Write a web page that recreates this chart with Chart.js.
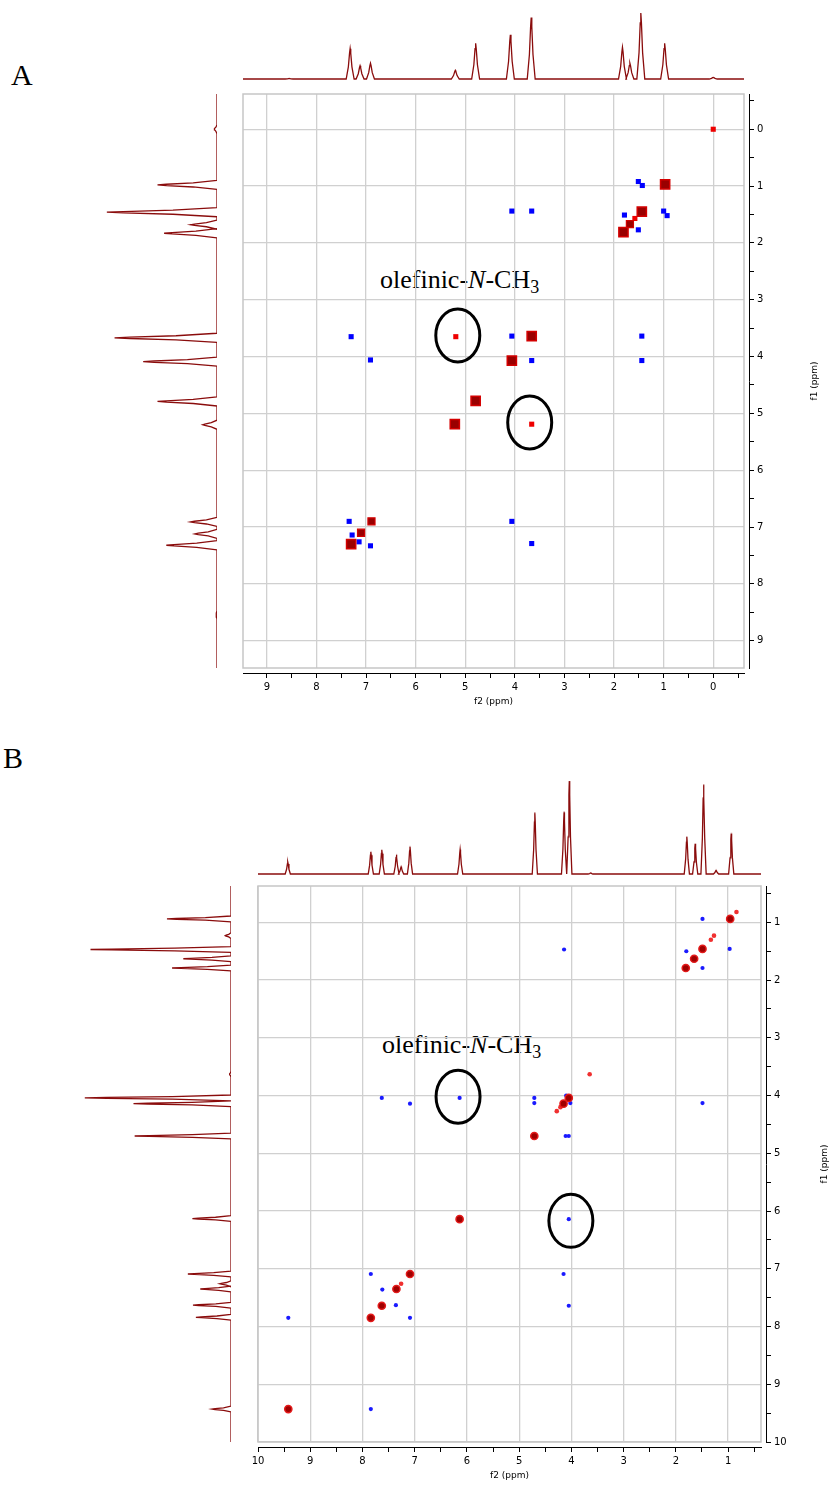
<!DOCTYPE html>
<html>
<head>
<meta charset="utf-8">
<script src="https://cdn.jsdelivr.net/npm/chart.js@4.4.1/dist/chart.umd.min.js"></script>
<style>
  html, body { margin: 0; padding: 0; background: #fff; }
  body { position: relative; width: 838px; height: 1486px; overflow: hidden; }
  canvas { position: absolute; }
  .lbl { position: absolute; font-family: "Liberation Serif", serif; color: #000; white-space: nowrap; line-height: 1; }
  .note { font-size: 26px; }
  .note sub { font-size: 18px; vertical-align: -5px; line-height: 0; }
</style>
</head>
<body>
<div class="lbl" style="left:11px;top:60px;font-size:30px">A</div>
<div class="lbl" style="left:3px;top:743px;font-size:30px">B</div>
<div class="lbl note" style="left:380px;top:267px">olefinic-<i>N</i>-CH<sub>3</sub></div>
<div class="lbl note" style="left:382px;top:1032px">olefinic-<i>N</i>-CH<sub>3</sub></div>

<canvas id="topA"></canvas>
<canvas id="leftA"></canvas>
<canvas id="mainA"></canvas>
<canvas id="topB"></canvas>
<canvas id="leftB"></canvas>
<canvas id="mainB"></canvas>

<script>
'use strict';

// ---- panel A ----
// 1D projection: peak shift (ppm) and height (% of the tallest peak)
const specAppm = [8.55, 7.32, 7.12, 6.91, 5.20, 4.79, 4.09, 3.67, 1.83, 1.68, 1.46, 0.98, 0.00];
const specAint = [0.8, 46, 20, 24, 13, 54, 67, 93, 48, 24, 100, 54, 2.5];

// 2D cross peaks as [f2, f1] in ppm
const diagA = [[0.97, 0.97], [1.44, 1.45], [1.81, 1.81], [3.66, 3.64], [4.06, 4.07],
  [4.79, 4.78], [5.21, 5.19], [7.30, 7.30]];
const diagAsmall = [[1.68, 1.67], [6.89, 6.90], [7.10, 7.10]];
const redA = [[0.00, 0.00], [1.58, 1.57], [5.19, 3.65], [3.66, 5.19]];
const blueA = [[1.51, 0.92], [1.43, 0.99], [4.06, 1.44], [3.66, 1.44], [1.00, 1.44], [0.93, 1.52],
  [1.79, 1.51], [1.51, 1.77], [4.06, 3.64], [7.30, 3.65], [1.44, 3.64], [6.91, 4.06],
  [3.66, 4.07], [1.44, 4.07], [7.34, 6.90], [4.06, 6.90], [7.28, 7.14], [7.14, 7.26],
  [6.91, 7.33], [3.66, 7.29]];
const ringsA = [[5.15, 3.63], [3.70, 5.16]];

// ---- panel B ----
const specBppm = [9.43, 7.84, 7.63, 7.35, 7.26, 7.09, 6.13, 4.70, 4.14, 4.04, 3.63, 1.79, 1.63, 1.47, 1.23, 0.94];
const specBint = [12.8, 24, 26, 21, 7.8, 29.5, 26.4, 65.9, 66.7, 100, 1, 40.3, 32.6, 96.1, 3.9, 43.8];

const diagB = [[0.96, 0.94], [1.49, 1.46], [1.65, 1.63], [1.81, 1.79], [4.05, 4.04], [4.15, 4.14],
  [4.71, 4.70], [6.14, 6.14], [7.09, 7.09], [7.35, 7.35], [7.63, 7.64], [7.84, 7.85], [9.42, 9.43]];
const redB = [[7.26, 7.26], [3.65, 3.63], [1.27, 1.23], [0.84, 0.82], [4.28, 4.27], [4.21, 4.20], [1.33, 1.30]];
const blueB = [[1.49, 0.94], [4.14, 1.47], [1.80, 1.50], [0.97, 1.46], [1.49, 1.79], [1.49, 4.13],
  [7.63, 4.04], [7.09, 4.14], [6.14, 4.04], [4.71, 4.04], [4.71, 4.13], [4.10, 4.00], [4.02, 4.13],
  [4.11, 4.70], [4.05, 4.70], [4.05, 6.14], [7.84, 7.09], [7.62, 7.36], [7.36, 7.63], [4.15, 7.09],
  [4.05, 7.64], [9.42, 7.85], [7.09, 7.85], [7.84, 9.43]];
const ringsB = [[6.17, 4.02], [4.01, 6.17]];

const INK = '#8a0c0c';
const TICK_FONT = { family: 'DejaVu Sans', size: 10 };
// outline used for every peak: [offset in half-widths, fraction of peak height]
const PEAK_SHAPE = [[1, 0], [0.45, 0.4], [0.15, 0.85], [0, 1], [-0.15, 0.85], [-0.45, 0.4], [-1, 0]];

function pts(pairs) {
  return pairs.map(([x, y]) => ({ x, y }));
}

function trace(ppm, amp, lo, hi, w, vertical) {
  const out = [[hi, 0]];
  ppm.forEach((p, i) => {
    PEAK_SHAPE.forEach(([dx, f]) => out.push([p + dx * w, f * amp[i]]));
  });
  out.push([lo, 0]);
  return out.map(([p, a]) => vertical ? { x: a, y: p } : { x: p, y: a });
}

function place(id, left, top, w, h) {
  const c = document.getElementById(id);
  c.width = w; c.height = h;
  Object.assign(c.style, { left: left + 'px', top: top + 'px', width: w + 'px', height: h + 'px' });
  return c;
}

function spectrum(id, box, data, xs, ys, pad) {
  const c = place(id, box.left, box.top, box.width, box.height);
  return new Chart(c, {
    type: 'scatter',
    data: { datasets: [{ data, showLine: true, borderColor: INK, borderWidth: 1.3, pointRadius: 0, tension: 0, clip: false }] },
    options: {
      responsive: false, animation: false, events: [],
      layout: { padding: pad },
      plugins: { legend: { display: false }, tooltip: { enabled: false } },
      scales: { x: Object.assign({ display: false }, xs), y: Object.assign({ display: false }, ys) }
    }
  });
}

function decor(rings, titleDx) {
  return {
    id: 'decor',
    beforeDatasetsDraw(chart) {
      const { ctx, chartArea: a } = chart;
      ctx.save();
      ctx.strokeStyle = '#c6c6c6';
      ctx.lineWidth = 1.5;
      ctx.strokeRect(a.left, a.top, a.right - a.left, a.bottom - a.top);
      ctx.restore();
    },
    afterDatasetsDraw(chart) {
      const { ctx, chartArea: a, scales } = chart;
      ctx.save();
      ctx.strokeStyle = '#000';
      ctx.lineWidth = 3;
      rings.forEach(([cx, cy]) => {
        ctx.beginPath();
        ctx.ellipse(scales.x.getPixelForValue(cx), scales.y.getPixelForValue(cy), 22, 26.5, 0, 0, 2 * Math.PI);
        ctx.stroke();
      });
      ctx.fillStyle = '#000';
      ctx.font = '9px "DejaVu Sans"';
      ctx.textAlign = 'center';
      ctx.textBaseline = 'middle';
      ctx.translate(a.right + titleDx, (a.top + a.bottom) / 2);
      ctx.rotate(-Math.PI / 2);
      ctx.fillText('f1 (ppm)', 0, 0);
      ctx.restore();
    }
  };
}

function main2d(id, frame, lo, hi, datasets, rings, titleDx) {
  const padL = 20, padT = 10, gap = 5, axisH = 34, axisW = 82;
  const w = frame.right - frame.left, h = frame.bottom - frame.top;
  const c = place(id, frame.left - padL, frame.top - padT, padL + w + gap + axisW, padT + h + gap + axisH);
  const range = { type: 'linear', reverse: true, min: lo, max: hi };
  const intLabel = v => Number.isInteger(v) ? String(v) : '';
  return new Chart(c, {
    type: 'scatter',
    data: { datasets },
    options: {
      responsive: false, animation: false, events: [],
      layout: { padding: { left: padL, top: padT, right: 0, bottom: 0 } },
      plugins: { legend: { display: false }, tooltip: { enabled: false } },
      scales: {
        x: Object.assign({}, range, {
          position: 'bottom',
          ticks: { display: false, stepSize: 1, includeBounds: false },
          grid: { color: '#d0d0d0', lineWidth: 1.3, drawTicks: false },
          border: { display: false },
          afterFit: s => { s.height = 0; }
        }),
        xGap: Object.assign({}, range, {
          position: 'bottom', weight: 1,
          ticks: { display: false }, grid: { display: false }, border: { display: false },
          afterFit: s => { s.height = gap; }
        }),
        xAxis: Object.assign({}, range, {
          position: 'bottom', weight: 2,
          ticks: { stepSize: 0.5, includeBounds: false, autoSkip: false, maxRotation: 0, padding: 3,
            color: '#000', font: TICK_FONT, callback: intLabel },
          grid: { drawOnChartArea: false, tickLength: 5, color: '#000' },
          border: { display: true, color: '#000', width: 1 },
          title: { display: true, text: 'f2 (ppm)', color: '#000', font: { family: 'DejaVu Sans', size: 9 }, padding: { top: 0, bottom: 0 } },
          afterFit: s => { s.height = axisH; }
        }),
        y: Object.assign({}, range, {
          position: 'right',
          ticks: { display: false, stepSize: 1, includeBounds: false },
          grid: { color: '#d0d0d0', lineWidth: 1.3, drawTicks: false },
          border: { display: false },
          afterFit: s => { s.width = 0; }
        }),
        yGap: Object.assign({}, range, {
          position: 'right', weight: 1,
          ticks: { display: false }, grid: { display: false }, border: { display: false },
          afterFit: s => { s.width = gap; }
        }),
        yAxis: Object.assign({}, range, {
          position: 'right', weight: 2,
          ticks: { stepSize: 0.5, includeBounds: false, autoSkip: false, padding: 3,
            color: '#000', font: TICK_FONT, callback: intLabel },
          grid: { drawOnChartArea: false, tickLength: 5, color: '#000' },
          border: { display: true, color: '#000', width: 1 },
          afterFit: s => { s.width = axisW; }
        })
      }
    },
    plugins: [decor(rings, titleDx)]
  });
}

function set(pairs, style) {
  return Object.assign({ data: pts(pairs), xAxisID: 'x', yAxisID: 'y', borderWidth: 0 }, style);
}

// ---- panel A charts ----
const loA = -0.62, hiA = 9.48;
spectrum('topA', { left: 243, top: 11, width: 501, height: 69 },
  trace(specAppm, specAint, loA, hiA, 0.08, false),
  { type: 'linear', reverse: true, min: loA, max: hiA }, { min: 0, max: 100 },
  { top: 2, bottom: 1 });
spectrum('leftA', { left: 0, top: 94, width: 217, height: 574 },
  trace(specAppm, specAint, loA, hiA, 0.08, true),
  { min: 0, max: 197, reverse: true }, { type: 'linear', reverse: true, min: loA, max: hiA },
  0);
main2d('mainA', { left: 243, top: 94, right: 744, bottom: 668 }, loA, hiA, [
  set(diagA, { pointStyle: 'rect', pointRadius: 6.5, backgroundColor: '#9a0000', borderColor: '#d40000', borderWidth: 1.5 }),
  set(diagAsmall, { pointStyle: 'rect', pointRadius: 5, backgroundColor: '#9a0000', borderColor: '#d40000', borderWidth: 1.2 }),
  set(redA, { pointStyle: 'rect', pointRadius: 3.6, backgroundColor: '#ee0000' }),
  set(blueA, { pointStyle: 'rect', pointRadius: 3.6, backgroundColor: '#0000ff' })
], ringsA, 71);

// ---- panel B charts ----
const loB = 0.37, hiB = 10.0;
spectrum('topB', { left: 257.5, top: 779.4, width: 503.5, height: 95.4 },
  trace(specBppm, specBint, loB, hiB, 0.05, false),
  { type: 'linear', reverse: true, min: loB, max: hiB }, { min: 0, max: 100 },
  { top: 2, bottom: 1 });
spectrum('leftB', { left: 0, top: 886, width: 231, height: 556 },
  trace(specBppm, specBint, loB, hiB, 0.05, true),
  { min: 0, max: 158, reverse: true }, { type: 'linear', reverse: true, min: loB, max: hiB },
  0);
main2d('mainB', { left: 257.5, top: 886, right: 761, bottom: 1442 }, loB, hiB, [
  set(diagB, { pointStyle: 'circle', pointRadius: 3.6, backgroundColor: '#a00000', borderColor: '#e41a1a', borderWidth: 1.5 }),
  set(redB, { pointStyle: 'circle', pointRadius: 2.3, backgroundColor: '#f03030' }),
  set(blueB, { pointStyle: 'circle', pointRadius: 2.1, backgroundColor: '#1a1aff' })
], ringsB, 64);
</script>
</body>
</html>
